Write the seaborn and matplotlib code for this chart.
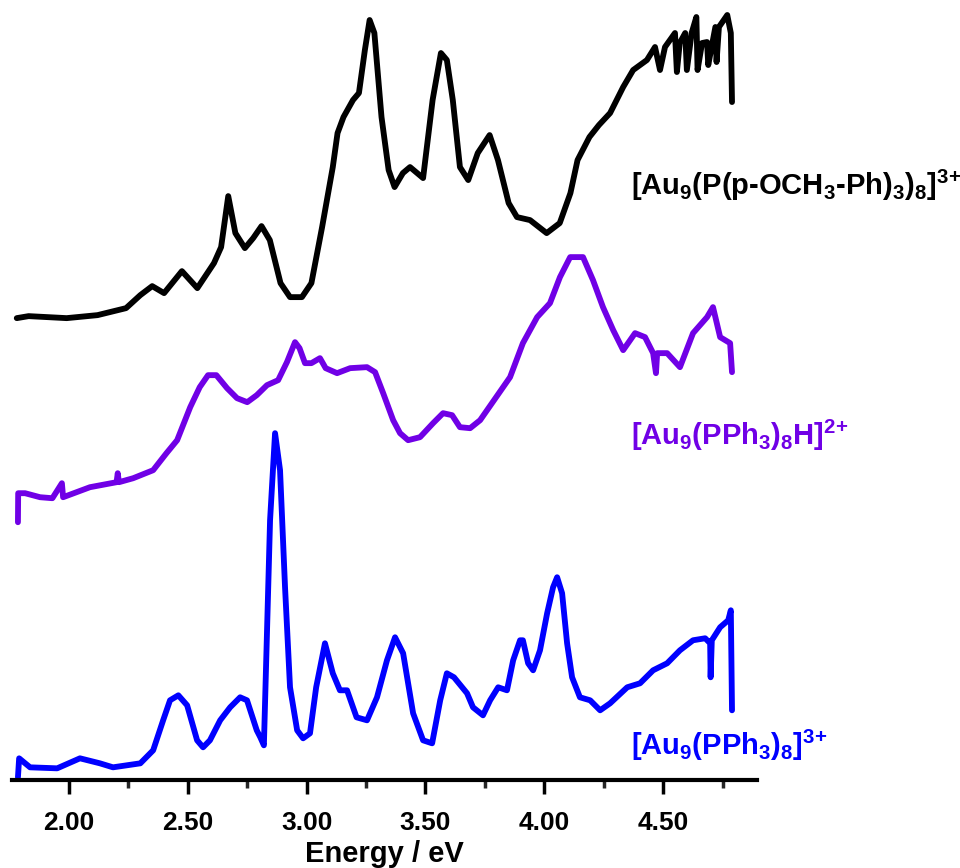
import numpy as np
import pandas as pd
import matplotlib
matplotlib.use("Agg")
import matplotlib.pyplot as plt
from matplotlib.ticker import MultipleLocator, FormatStrFormatter
import seaborn as sns

# Spectra (energy in eV, intensity in offset arbitrary units)
e_ome = [1.78, 1.83, 1.99, 2.12, 2.24, 2.30, 2.35, 2.40, 2.475, 2.54, 2.61, 2.64, 2.67, 2.70,
         2.74, 2.775, 2.81, 2.845, 2.89, 2.93, 2.98, 3.02, 3.065, 3.11, 3.13, 3.155, 3.195, 3.22,
         3.245, 3.265, 3.285, 3.315, 3.345, 3.37, 3.405, 3.435, 3.49, 3.53, 3.565, 3.59, 3.615,
         3.645, 3.68, 3.72, 3.77, 3.805, 3.85, 3.885, 3.94, 4.01, 4.065, 4.11, 4.14, 4.19, 4.23,
         4.277, 4.332, 4.374, 4.432, 4.466, 4.487, 4.508, 4.55, 4.558, 4.57, 4.593, 4.60, 4.62,
         4.64, 4.645, 4.664, 4.685, 4.69, 4.72, 4.725, 4.735, 4.77, 4.785, 4.79]
i_ome = [4.62, 4.64, 4.62, 4.65, 4.72, 4.85, 4.94, 4.87, 5.09, 4.92, 5.17, 5.33, 5.84, 5.47,
         5.32, 5.42, 5.54, 5.40, 4.97, 4.83, 4.83, 4.97, 5.53, 6.13, 6.47, 6.63, 6.80, 6.87,
         7.30, 7.60, 7.47, 6.63, 6.10, 5.93, 6.07, 6.13, 6.02, 6.80, 7.27, 7.20, 6.80,
         6.13, 6.00, 6.27, 6.45, 6.20, 5.77, 5.63, 5.60, 5.47, 5.57, 5.87, 6.20, 6.43, 6.55,
         6.67, 6.93, 7.10, 7.20, 7.33, 7.10, 7.33, 7.47, 7.08, 7.37, 7.47, 7.10, 7.47,
         7.63, 7.10, 7.37, 7.38, 7.15, 7.53, 7.18, 7.53, 7.65, 7.47, 6.78]

e_h = [1.785, 1.786, 1.815, 1.878, 1.93, 1.97, 1.975, 2.088, 2.20, 2.205, 2.21, 2.27, 2.354,
       2.41, 2.455, 2.51, 2.55, 2.585, 2.62, 2.665, 2.707, 2.75, 2.79, 2.833, 2.88, 2.917,
       2.951, 2.97, 2.993, 3.02, 3.056, 3.08, 3.128, 3.183, 3.254, 3.288, 3.322, 3.364, 3.393,
       3.427, 3.477, 3.532, 3.574, 3.612, 3.645, 3.688, 3.73, 3.856, 3.91, 3.97, 4.024, 4.066,
       4.109, 4.163, 4.205, 4.247, 4.29, 4.332, 4.382, 4.424, 4.458, 4.47, 4.475, 4.517, 4.571,
       4.626, 4.685, 4.71, 4.74, 4.782, 4.79]
i_h = [2.58, 2.87, 2.87, 2.83, 2.82, 2.97, 2.83, 2.93, 2.98, 3.07, 2.98, 3.02, 3.10,
       3.27, 3.40, 3.73, 3.93, 4.05, 4.05, 3.92, 3.82, 3.78, 3.85, 3.95, 4.00, 4.18,
       4.38, 4.32, 4.17, 4.17, 4.22, 4.12, 4.07, 4.12, 4.13, 4.08, 3.87, 3.60, 3.47,
       3.40, 3.43, 3.57, 3.67, 3.65, 3.53, 3.52, 3.60, 4.03, 4.37, 4.63, 4.77, 5.03,
       5.23, 5.23, 5.00, 4.73, 4.50, 4.30, 4.47, 4.43, 4.27, 4.07, 4.27, 4.27, 4.13,
       4.47, 4.63, 4.73, 4.43, 4.37, 4.08]

e_pph = [1.785, 1.79, 1.836, 1.95, 2.046, 2.13, 2.185, 2.30, 2.354, 2.396, 2.425, 2.46, 2.497,
         2.539, 2.564, 2.593, 2.636, 2.678, 2.72, 2.749, 2.79, 2.805, 2.82, 2.846, 2.867, 2.888,
         2.909, 2.93, 2.96, 2.985, 3.014, 3.04, 3.077, 3.11, 3.14, 3.17, 3.21, 3.254, 3.296,
         3.338, 3.372, 3.406, 3.448, 3.49, 3.528, 3.562, 3.59, 3.62, 3.675, 3.70, 3.742, 3.772,
         3.806, 3.843, 3.869, 3.898, 3.91, 3.932, 3.953, 3.982, 4.012, 4.037, 4.054, 4.075,
         4.096, 4.117, 4.15, 4.193, 4.235, 4.277, 4.349, 4.403, 4.458, 4.517, 4.571, 4.626,
         4.677, 4.698, 4.70, 4.705, 4.74, 4.774, 4.785, 4.79]
i_pph = [0.03, 0.22, 0.13, 0.12, 0.22, 0.17, 0.13, 0.17, 0.30, 0.60, 0.80, 0.85, 0.75,
         0.40, 0.33, 0.40, 0.60, 0.73, 0.83, 0.80, 0.50, 0.43, 0.35, 2.60, 3.47, 3.10,
         1.93, 0.93, 0.50, 0.42, 0.47, 0.93, 1.37, 1.07, 0.90, 0.90, 0.63, 0.60, 0.83,
         1.20, 1.43, 1.27, 0.67, 0.40, 0.37, 0.80, 1.07, 1.03, 0.87, 0.73, 0.65, 0.80,
         0.93, 0.90, 1.20, 1.40, 1.40, 1.17, 1.10, 1.30, 1.67, 1.93, 2.03, 1.87,
         1.37, 1.03, 0.83, 0.80, 0.70, 0.77, 0.93, 0.97, 1.10, 1.17, 1.30, 1.40,
         1.42, 1.37, 1.03, 1.40, 1.53, 1.60, 1.70, 0.70]

labels = [r"[Au$_9$(P(p-OCH$_3$-Ph)$_3$)$_8$]$^{3\!+}$",
          r"[Au$_9$(PPh$_3$)$_8$H]$^{2\!+}$",
          r"[Au$_9$(PPh$_3$)$_8$]$^{3\!+}$"]
colors = ["#000000", "#7000E6", "#0000FF"]
label_y = [5.95, 3.45, 0.35]

sns.set_theme(style="white")
plt.rcParams["font.family"] = ["Liberation Sans", "DejaVu Sans"]
plt.rcParams["font.weight"] = "bold"
plt.rcParams["mathtext.fontset"] = "custom"
plt.rcParams["mathtext.rm"] = "Liberation Sans:bold"
plt.rcParams["mathtext.bf"] = "Liberation Sans:bold"
plt.rcParams["mathtext.default"] = "bf"

fig = plt.figure(figsize=(9.6, 8.68), dpi=100)
ax = fig.add_axes([0.0125, 0.101, 0.776, 0.899])

curves = [(e_ome, i_ome), (e_h, i_h), (e_pph, i_pph)]
for (e, i), col in zip(curves, colors):
    df = pd.DataFrame({"energy": e, "intensity": i})
    sns.lineplot(data=df, x="energy", y="intensity", ax=ax, color=col,
                 linewidth=4.2, sort=False, estimator=None)

for lab, col, ly in zip(labels, colors, label_y):
    ax.text(4.365, ly, lab, color=col, fontsize=21, fontweight="bold",
            ha="left", va="center", clip_on=False)

ax.set_xlim(1.76, 4.895)
ax.set_ylim(0, 7.8)
ax.xaxis.set_major_locator(MultipleLocator(0.5))
ax.xaxis.set_minor_locator(MultipleLocator(0.25))
ax.xaxis.set_major_formatter(FormatStrFormatter("%.2f"))
ax.set_yticks([])
ax.set_ylabel("")
ax.set_xlabel("Energy / eV", fontsize=21, fontweight="bold", labelpad=4, color="black")
for s in ["left", "right", "top"]:
    ax.spines[s].set_visible(False)
ax.spines["bottom"].set_linewidth(3)
ax.spines["bottom"].set_color("black")
ax.tick_params(axis="x", which="major", direction="out", length=10, width=2.5,
               labelsize=19, pad=12, bottom=True, colors="black")
ax.tick_params(axis="x", which="minor", direction="out", length=6, width=2.5, bottom=True)
for t in ax.get_xticklabels():
    t.set_fontweight("bold")

fig.savefig("out.png", dpi=100)
